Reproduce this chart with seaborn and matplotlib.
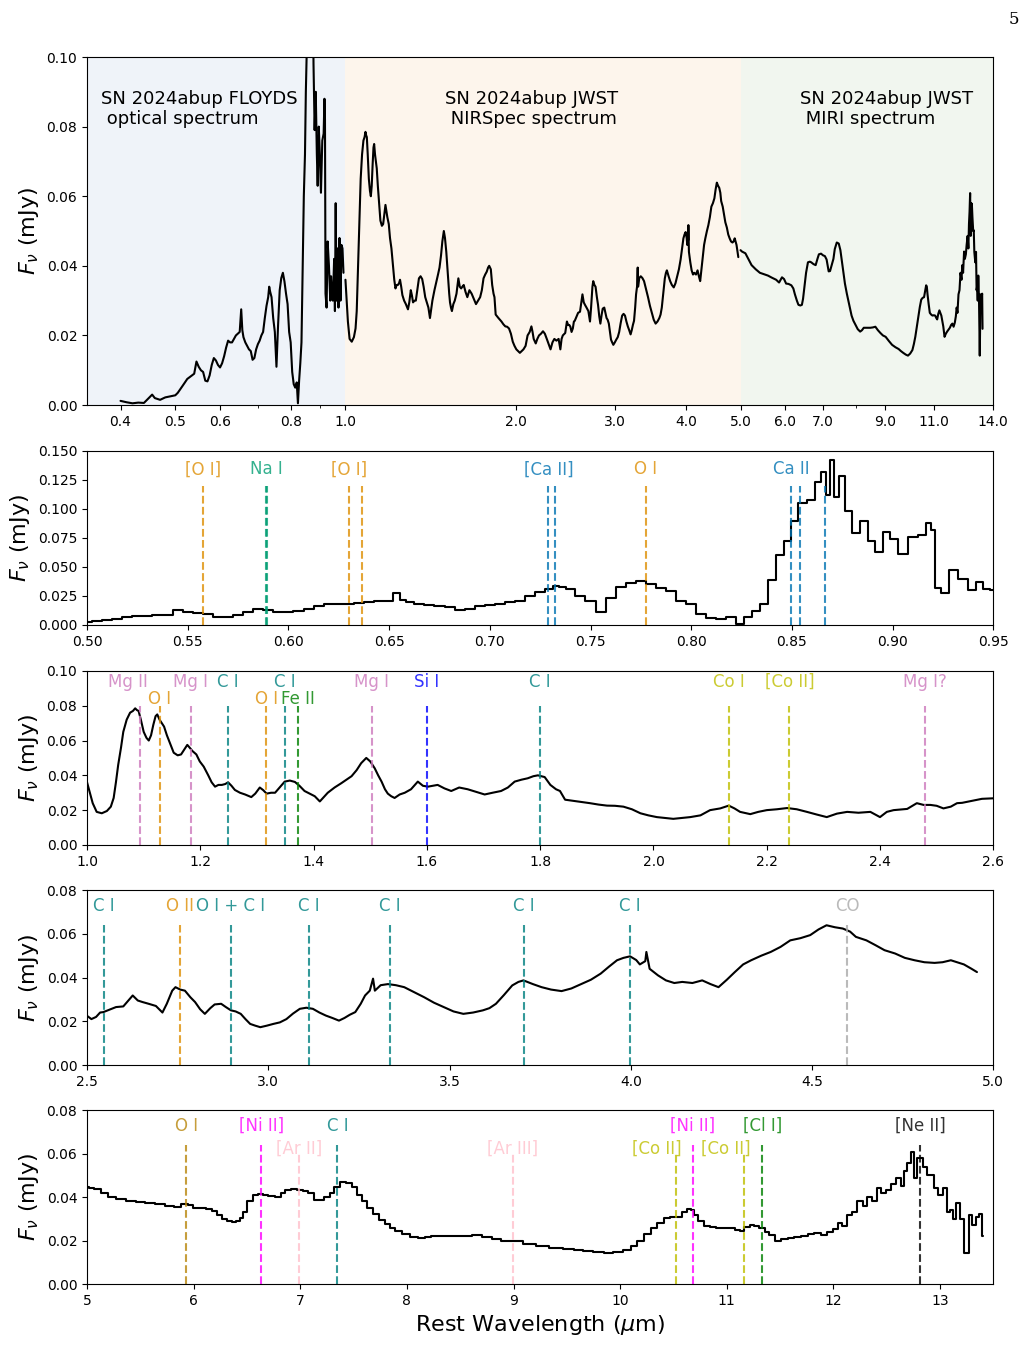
import numpy as np
import pandas as pd
import matplotlib
matplotlib.use('Agg')
import matplotlib.pyplot as plt
from matplotlib.ticker import FixedLocator, FormatStrFormatter, NullFormatter
import seaborn as sns

# ---- FLOYDS optical spectrum (um, mJy)
opt_wave = [0.400, 0.410, 0.420, 0.430, 0.440, 0.450, 0.455, 0.460, 0.470, 0.480,
            0.490, 0.500, 0.505, 0.510, 0.515, 0.520, 0.525, 0.530, 0.535, 0.540,
            0.545, 0.550, 0.555, 0.560, 0.565, 0.570, 0.575, 0.580, 0.585, 0.590,
            0.595, 0.600, 0.605, 0.610, 0.615, 0.620, 0.625, 0.630, 0.635, 0.640,
            0.645, 0.650, 0.654, 0.657, 0.660, 0.665, 0.670, 0.675, 0.680, 0.685,
            0.690, 0.695, 0.700, 0.705, 0.710, 0.715, 0.720, 0.725, 0.730, 0.733,
            0.736, 0.740, 0.745, 0.750, 0.755, 0.760, 0.765, 0.770, 0.775, 0.780,
            0.785, 0.790, 0.795, 0.800, 0.805, 0.810, 0.815, 0.820, 0.824, 0.828,
            0.832, 0.836, 0.840, 0.844, 0.848, 0.851, 0.855, 0.860, 0.863, 0.866,
            0.868, 0.870, 0.872, 0.875, 0.878, 0.882, 0.886, 0.890, 0.893, 0.897,
            0.900, 0.905, 0.910, 0.915, 0.918, 0.920, 0.922, 0.926, 0.930, 0.935,
            0.940, 0.943, 0.947, 0.950, 0.955, 0.958, 0.961, 0.964, 0.968, 0.972,
            0.976, 0.980, 0.984, 0.988, 0.992]
opt_flux = [0.0012, 0.0008, 0.0005, 0.0007, 0.0006, 0.0022, 0.0030, 0.0020, 0.0015, 0.0022,
            0.0025, 0.0028, 0.0035, 0.0045, 0.0055, 0.0065, 0.0075, 0.0080, 0.0085, 0.0090,
            0.0125, 0.0110, 0.0100, 0.0095, 0.0070, 0.0068, 0.0085, 0.0115, 0.0135, 0.0128,
            0.0115, 0.0108, 0.0120, 0.0140, 0.0165, 0.0185, 0.0180, 0.0180, 0.0190, 0.0200,
            0.0205, 0.0210, 0.0275, 0.0215, 0.0195, 0.0180, 0.0170, 0.0160, 0.0155, 0.0130,
            0.0135, 0.0160, 0.0175, 0.0185, 0.0200, 0.0210, 0.0250, 0.0285, 0.0310, 0.0340,
            0.0325, 0.0310, 0.0250, 0.0210, 0.0110, 0.0230, 0.0330, 0.0365, 0.0380, 0.0355,
            0.0320, 0.0290, 0.0210, 0.0180, 0.0095, 0.0060, 0.0050, 0.0065, 0.0005, 0.0070,
            0.0120, 0.0180, 0.0390, 0.0600, 0.0720, 0.0900, 0.1050, 0.1080, 0.1230, 0.1320,
            0.1120, 0.1420, 0.1100, 0.1280, 0.0980, 0.0790, 0.0900, 0.0720, 0.0630, 0.0800,
            0.0740, 0.0610, 0.0760, 0.0780, 0.0880, 0.0820, 0.0320, 0.0280, 0.0470, 0.0400,
            0.0300, 0.0370, 0.0310, 0.0300, 0.0420, 0.0270, 0.0580, 0.0300, 0.0450, 0.0280,
            0.0480, 0.0300, 0.0460, 0.0450, 0.0380]

# ---- JWST NIRSpec spectrum
nir_wave = [1.000, 1.005, 1.010, 1.017, 1.026, 1.035, 1.042, 1.047, 1.051, 1.055,
            1.060, 1.064, 1.070, 1.076, 1.081, 1.085, 1.088, 1.091, 1.095, 1.100,
            1.105, 1.109, 1.113, 1.117, 1.121, 1.124, 1.128, 1.132, 1.136, 1.141,
            1.147, 1.153, 1.160, 1.166, 1.172, 1.177, 1.181, 1.186, 1.193, 1.199,
            1.206, 1.214, 1.220, 1.226, 1.232, 1.238, 1.244, 1.249, 1.255, 1.261,
            1.270, 1.279, 1.290, 1.297, 1.305, 1.311, 1.317, 1.325, 1.332, 1.340,
            1.349, 1.358, 1.367, 1.375, 1.384, 1.393, 1.402, 1.411, 1.418, 1.425,
            1.437, 1.449, 1.458, 1.467, 1.476, 1.484, 1.493, 1.500, 1.508, 1.514,
            1.520, 1.526, 1.531, 1.537, 1.543, 1.552, 1.561, 1.572, 1.584, 1.593,
            1.602, 1.610, 1.619, 1.631, 1.643, 1.657, 1.672, 1.687, 1.702, 1.716,
            1.731, 1.743, 1.755, 1.767, 1.778, 1.788, 1.796, 1.808, 1.818, 1.828,
            1.835, 1.844, 1.855, 1.865, 1.876, 1.888, 1.903, 1.918, 1.932, 1.947,
            1.962, 1.977, 1.991, 2.006, 2.020, 2.035, 2.050, 2.065, 2.083, 2.100,
            2.118, 2.133, 2.143, 2.153, 2.171, 2.185, 2.200, 2.218, 2.236, 2.253,
            2.271, 2.288, 2.306, 2.324, 2.342, 2.362, 2.383, 2.400, 2.412, 2.424,
            2.448, 2.465, 2.477, 2.489, 2.500, 2.512, 2.525, 2.536, 2.545, 2.565,
            2.580, 2.600, 2.626, 2.640, 2.653, 2.670, 2.690, 2.708, 2.720, 2.735,
            2.744, 2.757, 2.770, 2.785, 2.798, 2.812, 2.825, 2.840, 2.852, 2.870,
            2.883, 2.897, 2.910, 2.924, 2.937, 2.950, 2.964, 2.978, 2.996, 3.014,
            3.032, 3.050, 3.068, 3.087, 3.105, 3.123, 3.141, 3.159, 3.177, 3.195,
            3.210, 3.225, 3.240, 3.255, 3.267, 3.280, 3.289, 3.294, 3.310, 3.330,
            3.352, 3.375, 3.400, 3.430, 3.457, 3.484, 3.511, 3.538, 3.565, 3.592,
            3.610, 3.628, 3.650, 3.673, 3.690, 3.704, 3.730, 3.754, 3.780, 3.809,
            3.836, 3.863, 3.890, 3.917, 3.940, 3.962, 3.980, 3.998, 4.015, 4.025,
            4.040, 4.043, 4.052, 4.075, 4.097, 4.120, 4.142, 4.170, 4.197, 4.220,
            4.242, 4.265, 4.287, 4.310, 4.332, 4.360, 4.386, 4.413, 4.440, 4.468,
            4.495, 4.518, 4.540, 4.563, 4.585, 4.605, 4.621, 4.650, 4.675, 4.700,
            4.729, 4.756, 4.783, 4.810, 4.838, 4.860, 4.883, 4.900, 4.919, 4.940,
            4.955]
nir_flux = [0.0360, 0.0300, 0.0240, 0.0190, 0.0182, 0.0195, 0.0220, 0.0270, 0.0360, 0.0460,
            0.0560, 0.0650, 0.0720, 0.0760, 0.0770, 0.0785, 0.0775, 0.0770, 0.0720, 0.0650,
            0.0615, 0.0600, 0.0630, 0.0690, 0.0740, 0.0750, 0.0720, 0.0700, 0.0680, 0.0630,
            0.0580, 0.0530, 0.0515, 0.0520, 0.0550, 0.0575, 0.0560, 0.0540, 0.0520, 0.0480,
            0.0450, 0.0400, 0.0360, 0.0335, 0.0345, 0.0345, 0.0350, 0.0360, 0.0340, 0.0316,
            0.0300, 0.0290, 0.0275, 0.0295, 0.0330, 0.0315, 0.0295, 0.0300, 0.0300, 0.0330,
            0.0364, 0.0370, 0.0362, 0.0340, 0.0310, 0.0295, 0.0280, 0.0250, 0.0275, 0.0300,
            0.0330, 0.0355, 0.0375, 0.0395, 0.0430, 0.0470, 0.0500, 0.0480, 0.0440, 0.0400,
            0.0364, 0.0320, 0.0295, 0.0280, 0.0270, 0.0290, 0.0300, 0.0320, 0.0364, 0.0340,
            0.0335, 0.0340, 0.0345, 0.0325, 0.0310, 0.0330, 0.0320, 0.0305, 0.0290, 0.0300,
            0.0310, 0.0330, 0.0364, 0.0375, 0.0383, 0.0395, 0.0400, 0.0390, 0.0345, 0.0320,
            0.0310, 0.0260, 0.0255, 0.0250, 0.0245, 0.0240, 0.0232, 0.0226, 0.0225, 0.0220,
            0.0205, 0.0182, 0.0170, 0.0160, 0.0155, 0.0150, 0.0155, 0.0160, 0.0170, 0.0200,
            0.0210, 0.0226, 0.0210, 0.0190, 0.0177, 0.0190, 0.0200, 0.0205, 0.0212, 0.0205,
            0.0190, 0.0175, 0.0160, 0.0180, 0.0190, 0.0185, 0.0190, 0.0160, 0.0190, 0.0200,
            0.0207, 0.0240, 0.0230, 0.0230, 0.0225, 0.0210, 0.0220, 0.0240, 0.0242, 0.0255,
            0.0265, 0.0268, 0.0318, 0.0295, 0.0288, 0.0280, 0.0270, 0.0240, 0.0280, 0.0340,
            0.0356, 0.0345, 0.0340, 0.0310, 0.0288, 0.0255, 0.0234, 0.0260, 0.0277, 0.0280,
            0.0265, 0.0250, 0.0245, 0.0234, 0.0210, 0.0188, 0.0180, 0.0173, 0.0180, 0.0188,
            0.0195, 0.0210, 0.0235, 0.0257, 0.0262, 0.0257, 0.0240, 0.0226, 0.0215, 0.0203,
            0.0215, 0.0230, 0.0242, 0.0280, 0.0318, 0.0340, 0.0395, 0.0340, 0.0365, 0.0370,
            0.0365, 0.0356, 0.0335, 0.0310, 0.0285, 0.0265, 0.0245, 0.0234, 0.0240, 0.0250,
            0.0260, 0.0280, 0.0320, 0.0364, 0.0380, 0.0387, 0.0370, 0.0356, 0.0345, 0.0338,
            0.0350, 0.0370, 0.0390, 0.0418, 0.0450, 0.0479, 0.0490, 0.0497, 0.0480, 0.0460,
            0.0475, 0.0517, 0.0440, 0.0410, 0.0387, 0.0375, 0.0380, 0.0375, 0.0387, 0.0370,
            0.0356, 0.0390, 0.0425, 0.0460, 0.0479, 0.0500, 0.0517, 0.0540, 0.0570, 0.0580,
            0.0594, 0.0620, 0.0639, 0.0630, 0.0624, 0.0610, 0.0586, 0.0570, 0.0548, 0.0525,
            0.0510, 0.0490, 0.0479, 0.0470, 0.0467, 0.0470, 0.0479, 0.0470, 0.0460, 0.0440,
            0.0425]

# ---- JWST MIRI spectrum
miri_wave = [5.00, 5.03, 5.10, 5.16, 5.23, 5.32, 5.41, 5.50, 5.59, 5.68,
             5.78, 5.85, 5.92, 5.97, 6.02, 6.08, 6.15, 6.20, 6.24, 6.29,
             6.33, 6.38, 6.42, 6.45, 6.48, 6.53, 6.58, 6.63, 6.67, 6.73,
             6.79, 6.84, 6.88, 6.94, 7.00, 7.05, 7.10, 7.16, 7.20, 7.25,
             7.30, 7.34, 7.40, 7.46, 7.51, 7.56, 7.60, 7.65, 7.71, 7.77,
             7.82, 7.86, 7.92, 7.99, 8.06, 8.14, 8.20, 8.26, 8.37, 8.48,
             8.57, 8.66, 8.75, 8.84, 8.93, 9.03, 9.15, 9.27, 9.40, 9.52,
             9.61, 9.70, 9.80, 9.89, 9.98, 10.07, 10.13, 10.19, 10.26, 10.32,
             10.38, 10.44, 10.50, 10.56, 10.61, 10.65, 10.68, 10.71, 10.76, 10.81,
             10.87, 10.93, 10.99, 11.05, 11.10, 11.14, 11.19, 11.24, 11.28, 11.33,
             11.38, 11.42, 11.48, 11.54, 11.60, 11.66, 11.73, 11.79, 11.85, 11.91,
             11.97, 12.02, 12.06, 12.10, 12.15, 12.20, 12.25, 12.30, 12.34, 12.38,
             12.43, 12.47, 12.52, 12.56, 12.61, 12.65, 12.68, 12.71, 12.74, 12.77,
             12.80, 12.83, 12.86, 12.90, 12.93, 12.96, 13.01, 13.05, 13.08, 13.11,
             13.14, 13.17, 13.21, 13.25, 13.29, 13.32, 13.35, 13.38, 13.40]
miri_flux = [0.0445, 0.0441, 0.0436, 0.0420, 0.0402, 0.0390, 0.0380, 0.0376, 0.0372, 0.0366,
             0.0360, 0.0352, 0.0367, 0.0362, 0.0349, 0.0348, 0.0344, 0.0335, 0.0318, 0.0300,
             0.0288, 0.0286, 0.0288, 0.0305, 0.0333, 0.0380, 0.0410, 0.0412, 0.0410, 0.0405,
             0.0402, 0.0420, 0.0433, 0.0435, 0.0430, 0.0428, 0.0418, 0.0384, 0.0385, 0.0402,
             0.0420, 0.0448, 0.0467, 0.0464, 0.0445, 0.0410, 0.0380, 0.0349, 0.0320, 0.0295,
             0.0275, 0.0257, 0.0242, 0.0230, 0.0218, 0.0211, 0.0215, 0.0222, 0.0222, 0.0222,
             0.0223, 0.0225, 0.0215, 0.0207, 0.0200, 0.0196, 0.0184, 0.0173, 0.0166, 0.0161,
             0.0155, 0.0150, 0.0145, 0.0142, 0.0148, 0.0158, 0.0175, 0.0196, 0.0228, 0.0257,
             0.0282, 0.0303, 0.0308, 0.0310, 0.0330, 0.0344, 0.0340, 0.0318, 0.0290, 0.0265,
             0.0260, 0.0257, 0.0258, 0.0257, 0.0250, 0.0246, 0.0262, 0.0272, 0.0265, 0.0257,
             0.0240, 0.0226, 0.0196, 0.0205, 0.0211, 0.0216, 0.0222, 0.0230, 0.0234, 0.0225,
             0.0237, 0.0255, 0.0280, 0.0265, 0.0318, 0.0330, 0.0380, 0.0360, 0.0402, 0.0380,
             0.0441, 0.0420, 0.0433, 0.0460, 0.0486, 0.0450, 0.0520, 0.0555, 0.0609, 0.0486,
             0.0580, 0.0578, 0.0540, 0.0500, 0.0502, 0.0440, 0.0410, 0.0440, 0.0330, 0.0341,
             0.0300, 0.0372, 0.0300, 0.0142, 0.0318, 0.0270, 0.0310, 0.0320, 0.0219]

# ---- line identifications (label, rest wavelengths, label row)
p2_labels = ['[O I]', 'Na I', '[O I]', '[Ca II]', 'O I', 'Ca II']
p2_waves = [[0.5577], [0.5890, 0.5896], [0.6300, 0.6364], [0.7291, 0.7324], [0.7774],
            [0.8498, 0.8542, 0.8662]]
p2_rows = [0, 0, 0, 0, 0, 0]

p3_labels = ['Mg II', 'O I', 'Mg I', 'C I', 'O I', 'C I', 'Fe II', 'Mg I', 'Si I', 'C I',
             'Co I', '[Co II]', 'Mg I?']
p3_waves = [[1.0927], [1.1287], [1.1828], [1.2490], [1.3164], [1.3500], [1.3722], [1.5030],
            [1.6000], [1.7990], [2.1330], [2.2400], [2.4800]]
p3_rows = [0, 1, 0, 0, 1, 0, 1, 0, 0, 0, 0, 0, 0]

p4_labels = ['C I', 'O II', 'O I + C I', 'C I', 'C I', 'C I', 'C I', 'CO']
p4_waves = [[2.547], [2.757], [2.896], [3.113], [3.335], [3.705], [3.998], [4.597]]
p4_rows = [0, 0, 0, 0, 0, 0, 0, 0]

p5_labels = ['O I', '[Ni II]', '[Ar II]', 'C I', '[Ar III]', '[Co II]', '[Ni II]', '[Co II]',
             '[Cl I]', '[Ne II]']
p5_waves = [[5.932], [6.636], [6.985], [7.348], [8.991], [10.52], [10.682], [11.165],
            [11.333], [12.814]]
p5_rows = [0, 0, 1, 0, 1, 1, 0, 1, 0, 0]

# colours for each identification (style, kept apart from the data)
c_blue, c_orange, c_green, c_pink = '#0173B2', '#DE8F05', '#029E73', '#CC78BC'
p2_colors = [c_orange, c_green, c_orange, c_blue, c_orange, c_blue]
p3_colors = [c_pink, c_orange, c_pink, 'teal', c_orange, 'teal', 'green', c_pink, 'blue',
             'teal', 'y', 'y', c_pink]
p4_colors = ['teal', c_orange, 'teal', 'teal', 'teal', 'teal', 'teal', 'darkgray']
p5_colors = ['darkgoldenrod', 'magenta', 'pink', 'teal', 'pink', 'y', 'magenta', 'y',
             'green', 'black']

sns.set_style('ticks')
plt.rcParams['font.family'] = ['DejaVu Sans']
plt.rcParams['mathtext.fontset'] = 'dejavusans'
plt.rcParams['xtick.labelsize'] = 10
plt.rcParams['ytick.labelsize'] = 10
for key in ['text.color', 'axes.labelcolor', 'xtick.color', 'ytick.color', 'axes.edgecolor']:
    plt.rcParams[key] = 'black'

opt = pd.DataFrame({'wave': opt_wave, 'flux': opt_flux})
nir = pd.DataFrame({'wave': nir_wave, 'flux': nir_flux})
miri = pd.DataFrame({'wave': miri_wave, 'flux': miri_flux})

fig = plt.figure(figsize=(10.24, 13.67), dpi=100)
left, width = 0.085, 0.885
ax1 = fig.add_axes([left, 0.7037, width, 0.2546])
ax2 = fig.add_axes([left, 0.5428, width, 0.1273])
ax3 = fig.add_axes([left, 0.3819, width, 0.1273])
ax4 = fig.add_axes([left, 0.2209, width, 0.1280])
ax5 = fig.add_axes([left, 0.0607, width, 0.1273])

ylab = r'$F_\nu$ (mJy)'

# ---- top overview panel
ax1.set_xscale('log')
ax1.axvspan(0.3, 1.0, color='#eff3f9', lw=0)
ax1.axvspan(1.0, 5.0, color='#fdf5ec', lw=0)
ax1.axvspan(5.0, 15.0, color='#f1f6ef', lw=0)
for df in [opt, nir, miri]:
    sns.lineplot(data=df, x='wave', y='flux', ax=ax1, color='k', lw=1.5,
                 sort=False, estimator=None)
ax1.set_xlim(0.349, 14.0)
ax1.set_ylim(0, 0.1)
top_ticks = [0.4, 0.5, 0.6, 0.8, 1.0, 2.0, 3.0, 4.0, 5.0, 6.0, 7.0, 9.0, 11.0, 14.0]
ax1.xaxis.set_major_locator(FixedLocator(top_ticks))
ax1.xaxis.set_major_formatter(FormatStrFormatter('%.1f'))
ax1.xaxis.set_minor_formatter(NullFormatter())
ax1.set_yticks(np.arange(0, 0.101, 0.02))
ax1.yaxis.set_major_formatter(FormatStrFormatter('%.2f'))
ax1.set_xlabel('')
ax1.set_ylabel(ylab, fontsize=16)
for x0, txt in [(0.37, 'SN 2024abup FLOYDS\n optical spectrum'),
                (1.50, 'SN 2024abup JWST\n NIRSpec spectrum'),
                (6.36, 'SN 2024abup JWST\n MIRI spectrum')]:
    ax1.text(x0, 0.085, txt, fontsize=13, ha='left', va='center', linespacing=1.15)


def mark_lines(ax, labels, waves, rows, colors, label_y, line_top, shifts=None):
    trans = ax.get_xaxis_transform()
    for i, (lab, ws, row, col) in enumerate(zip(labels, waves, rows, colors)):
        for w in ws:
            ax.axvline(w, ymin=0, ymax=line_top[row], color=col, ls='--', lw=1.5, alpha=0.8)
        lx = ws[0] + (shifts[i] if shifts else 0.0)
        ax.text(lx, label_y[row], lab, transform=trans, ha='center', va='center',
                color=col, alpha=0.8, fontsize=12)


def zoom_panel(ax, df, xlim, ylim, xticks, yticks, xfmt, yfmt, steps=True):
    kw = {'drawstyle': 'steps-mid'} if steps else {}
    sns.lineplot(data=df, x='wave', y='flux', ax=ax, color='k', lw=1.5,
                 sort=False, estimator=None, **kw)
    ax.set_xlim(*xlim)
    ax.set_ylim(*ylim)
    ax.set_xticks(xticks)
    ax.set_yticks(yticks)
    ax.xaxis.set_major_formatter(FormatStrFormatter(xfmt))
    ax.yaxis.set_major_formatter(FormatStrFormatter(yfmt))
    ax.set_xlabel('')
    ax.set_ylabel(ylab, fontsize=16)


zoom_panel(ax2, opt[(opt.wave >= 0.49) & (opt.wave <= 0.96)], (0.5, 0.95), (0, 0.15),
           np.arange(0.5, 0.951, 0.05), np.arange(0, 0.151, 0.025), '%.2f', '%.3f')
mark_lines(ax2, p2_labels, p2_waves, p2_rows, p2_colors, [0.895], [0.8])

zoom_panel(ax3, nir[nir.wave <= 2.62], (1.0, 2.6), (0, 0.1),
           np.arange(1.0, 2.61, 0.2), np.arange(0, 0.101, 0.02), '%.1f', '%.2f',
           steps=False)
p3_shift = [-0.02] + [0.0] * 12
mark_lines(ax3, p3_labels, p3_waves, p3_rows, p3_colors, [0.938, 0.837], [0.8, 0.8],
           shifts=p3_shift)

zoom_panel(ax4, nir[nir.wave >= 2.48], (2.5, 5.0), (0, 0.08),
           np.arange(2.5, 5.01, 0.5), np.arange(0, 0.081, 0.02), '%.1f', '%.2f',
           steps=False)
mark_lines(ax4, p4_labels, p4_waves, p4_rows, p4_colors, [0.91], [0.8])

zoom_panel(ax5, miri, (5.0, 13.5), (0, 0.08),
           np.arange(5, 14, 1), np.arange(0, 0.081, 0.02), '%d', '%.2f')
p5_shift = [0, 0, 0, 0, 0, -0.18, 0, -0.17, 0, 0]
mark_lines(ax5, p5_labels, p5_waves, p5_rows, p5_colors, [0.908, 0.78], [0.8, 0.75],
           shifts=p5_shift)
ax5.set_xlabel(r'Rest Wavelength ($\mu$m)', fontsize=16)

fig.text(0.995, 0.992, '5', ha='right', va='top', fontsize=12, family='DejaVu Serif')

fig.savefig('out.png', dpi=100)
